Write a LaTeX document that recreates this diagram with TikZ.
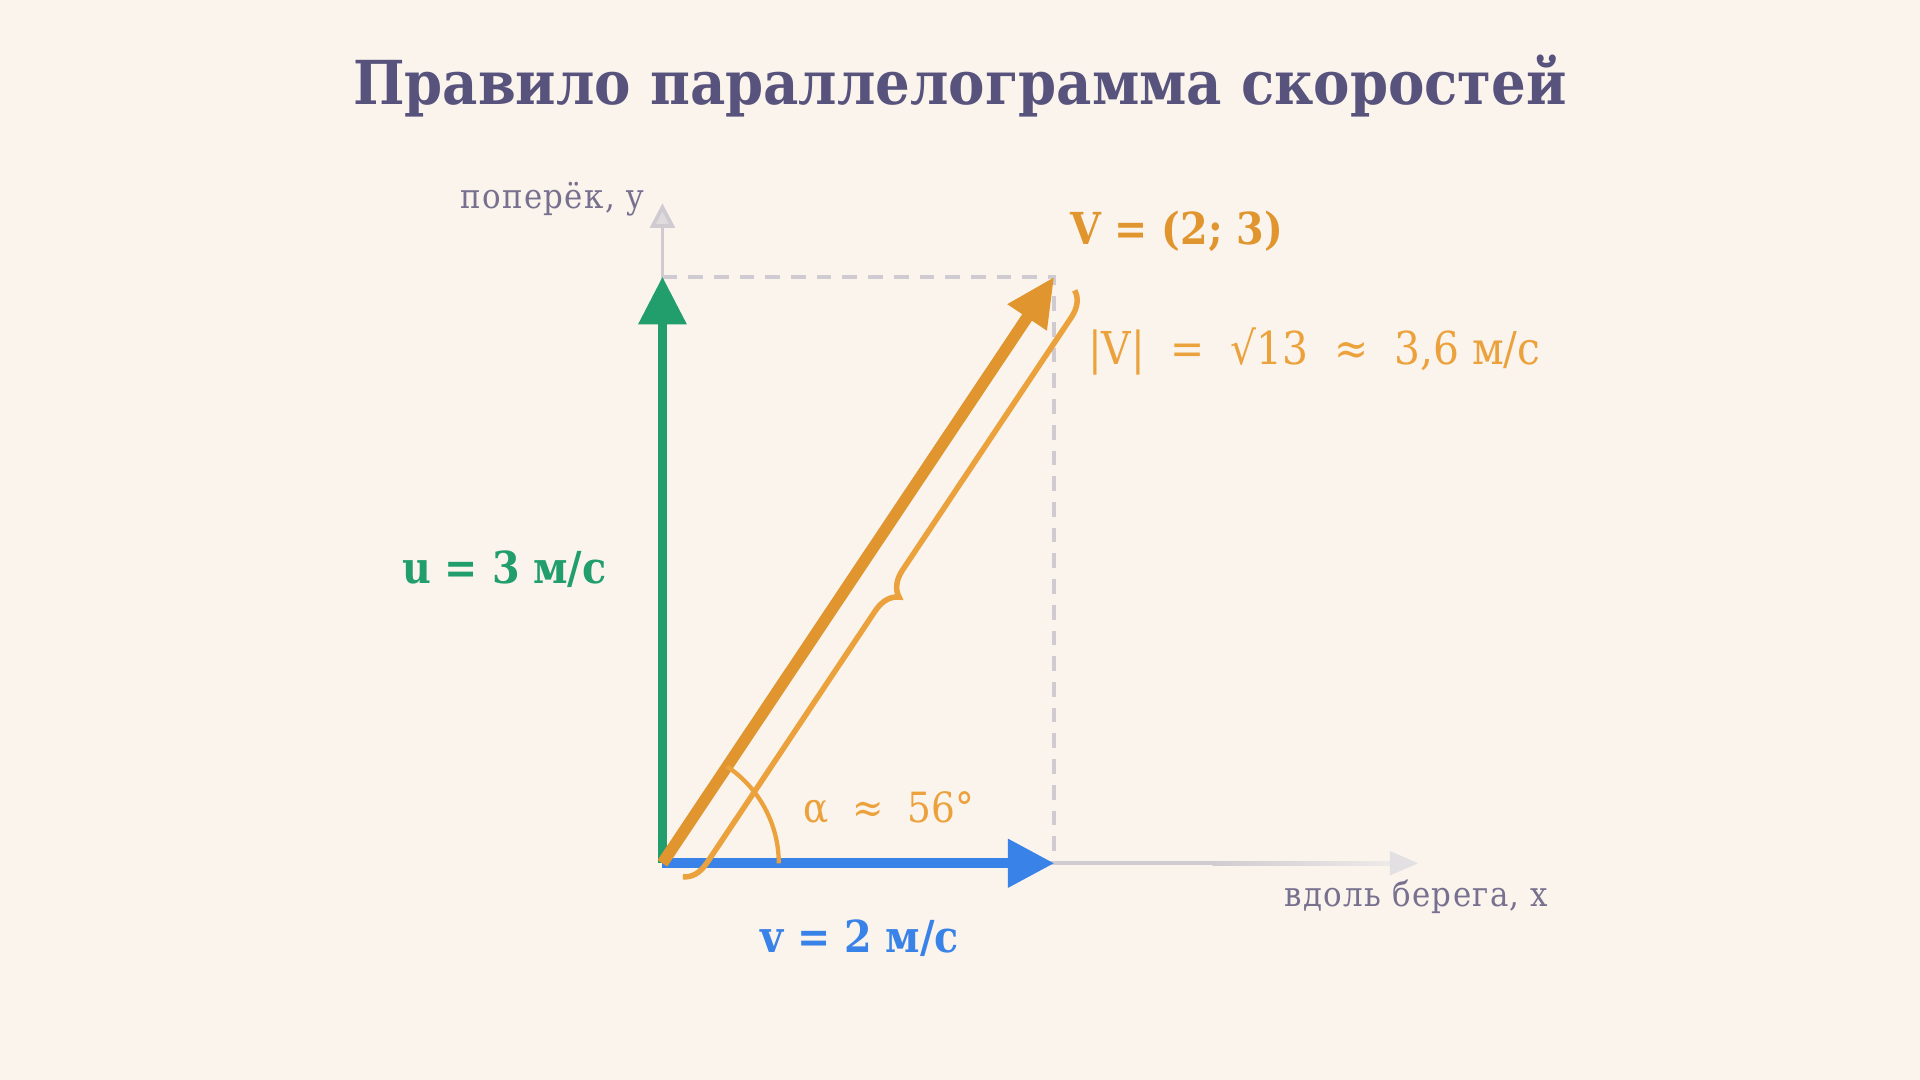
\documentclass[tikz,border=0pt]{standalone}
\usepackage{fontspec}
\setmainfont{DejaVu Serif Condensed}
\newfontfamily\axfont[LetterSpace=4]{DejaVu Serif Condensed}
\usetikzlibrary{arrows.meta,decorations.pathreplacing}
\definecolor{bg}{HTML}{FAF4ED}
\definecolor{titlec}{HTML}{58537D}
\definecolor{axgrey}{HTML}{CFCBD0}
\definecolor{axlight}{HTML}{EEEAE8}
\definecolor{axtext}{HTML}{77718F}
\definecolor{vgreen}{HTML}{229E6C}
\definecolor{vblue}{HTML}{3882E8}
\definecolor{vorange}{HTML}{E0952F}
\definecolor{lorange}{HTML}{ECA23C}
\tikzset{
  titletext/.style={text=titlec, font=\fontsize{49.5}{54}\selectfont\bfseries},
  axtextstyle/.style={text=axtext, font=\fontsize{28}{32}\axfont},
  boldlab/.style={font=\fontsize{36}{40}\selectfont\bfseries},
  reglab/.style={font=\fontsize{34}{38}\selectfont},
  maglab/.style={font=\fontsize{37}{41}\selectfont},
  axisline/.style={draw=axgrey, line width=3pt},
  dashline/.style={draw=axgrey, line width=3pt, dash pattern=on 12pt off 9pt},
}
\begin{document}
\begin{tikzpicture}[x=1pt,y=-1pt]
\fill[bg] (0,0) rectangle (1568,882);
\useasboundingbox (0,0) rectangle (1568,882);

\coordinate (O) at (541,705);
\coordinate (U) at (541,226);
\coordinate (Vx) at (861,705);
\coordinate (R) at (861,226);
\coordinate (Ytip) at (541,166);
\coordinate (Xfade) at (991,705);
\coordinate (Xtip) at (1158,705);
\coordinate (A0) at (636,705);

% axes
\draw[axisline, -{Triangle[length=20pt,width=20pt,fill=axgrey!70!white]}] (O) -- (Ytip);
\draw[axisline] (O) -- (Xfade);
\shade[left color=axgrey, right color=axlight] (990,703.5) rectangle (1137,706.5);
\fill[axgrey!60!white] (1135,695) -- (Xtip) -- (1135,715) -- cycle;

% dashed
\draw[dashline] (U) -- (R) -- (Vx);

% vectors
\draw[vgreen, line width=7pt, -{Triangle[length=39pt,width=38pt]}] (O) -- (U);
\draw[vblue, line width=8pt, -{Triangle[length=38pt,width=38pt]}] (O) -- (Vx);
\draw[vorange, line width=9.5pt, -{Triangle[length=40pt,width=36pt]}] (O) -- (R);

% brace
\draw[lorange, line width=4.5pt, decorate, decoration={brace, amplitude=20pt, raise=20pt}] (R) -- (O);

% angle
\draw[lorange, line width=3.5pt] (A0) arc[start angle=0, end angle=-56.3, radius=95];

% labels
\node[titletext] (title) at (784,70) {Правило параллелограмма скоростей};
\node[axtextstyle, anchor=east] (ylab) at (529,163) {поперёк, y};
\node[axtextstyle, anchor=east] (xlab) at (1268,732) {вдоль берега, x};
\node[boldlab, text=vorange] (vres) at (961,189) {V = (2; 3)};
\node[maglab, text=lorange, anchor=west] (vmod) at (885,287) {|V|\ \ =\ \ √13\ \ ≈\ \ 3,6 м/с};
\node[boldlab, text=vgreen] (ulab) at (412,465) {u = 3 м/с};
\node[boldlab, text=vblue] (vlab) at (702,766) {v = 2 м/с};
\node[reglab, text=lorange] (alab) at (726,660) {α\ \ ≈\ \ 56°};
\end{tikzpicture}
\end{document}
